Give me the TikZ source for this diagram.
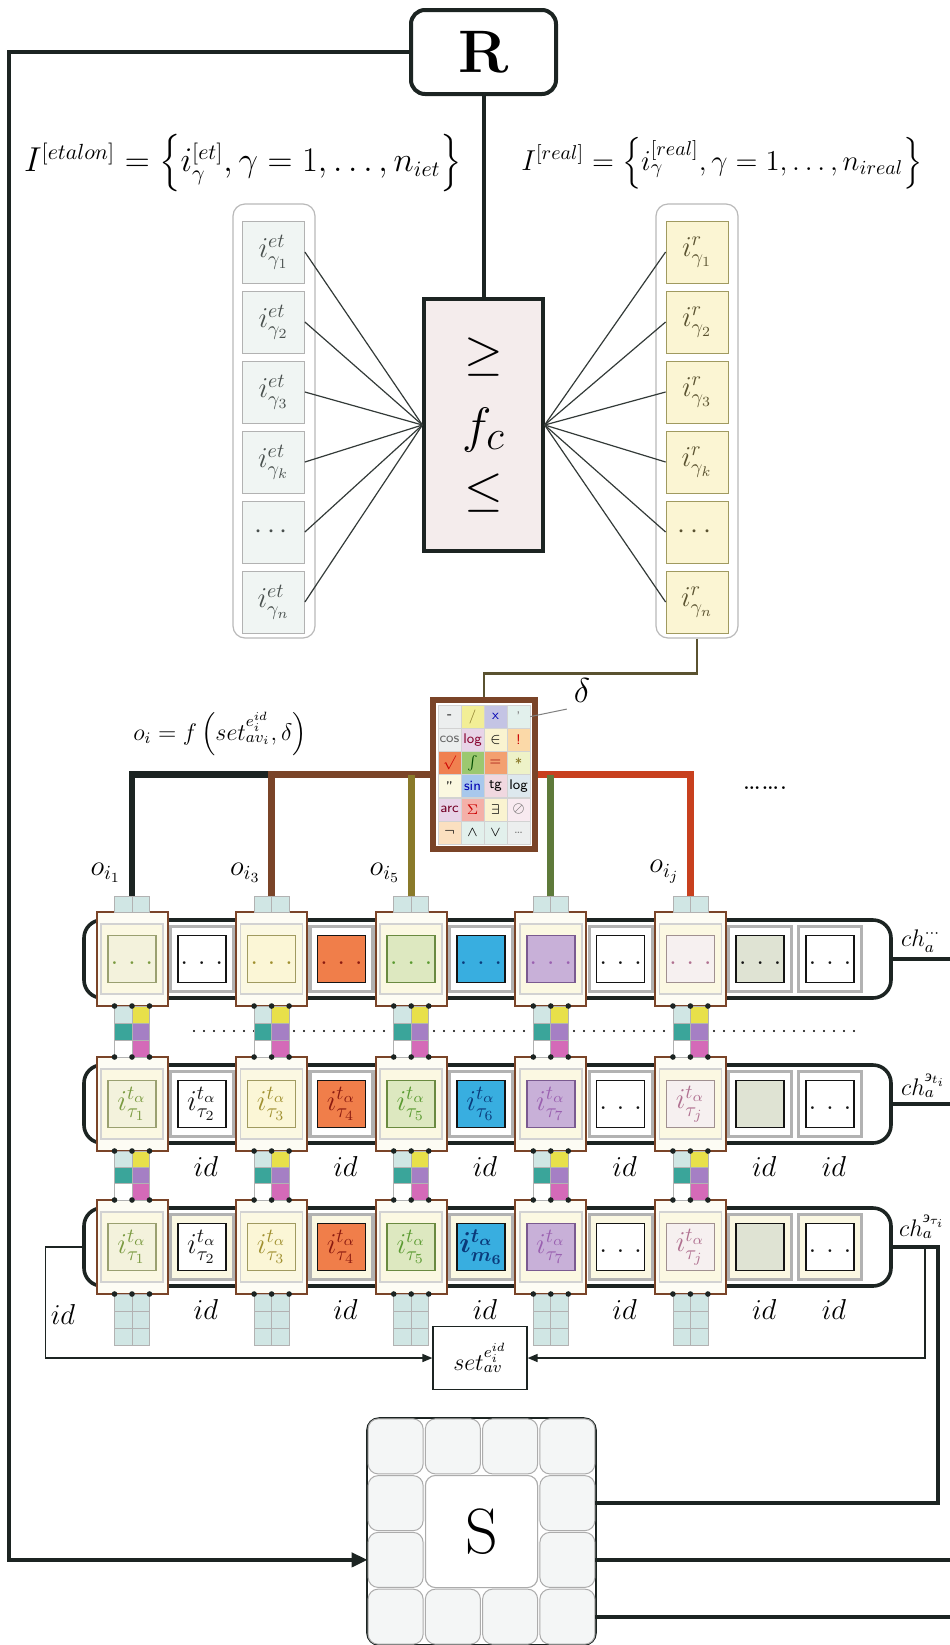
\documentclass[tikz,border=0pt]{standalone}
\usepackage{amsmath,amssymb}
\usepackage{fontspec}
\newfontfamily\cyrfont{Liberation Serif}
\usepackage{tikz}
\usetikzlibrary{arrows.meta,positioning,calc}
\usepackage{xcolor}
\definecolor{cWire}{RGB}{28,36,34}
\definecolor{cBrown}{RGB}{122,68,40}
\definecolor{cOlive}{RGB}{138,122,42}
\definecolor{cGreen}{RGB}{94,122,58}
\definecolor{cRed}{RGB}{200,64,30}
\definecolor{cLink}{RGB}{90,82,48}
\definecolor{cFc}{RGB}{244,236,236}
\definecolor{cEt}{RGB}{240,245,243}
\definecolor{cRe}{RGB}{251,245,211}
\definecolor{cCream}{RGB}{251,248,226}
\definecolor{cFrame}{RGB}{253,252,244}
\definecolor{cCyan}{RGB}{208,230,228}
\definecolor{cTeal}{RGB}{58,165,154}
\definecolor{cYel}{RGB}{232,224,74}
\definecolor{cPur}{RGB}{165,127,196}
\definecolor{cMag}{RGB}{212,106,184}
\definecolor{cS}{RGB}{244,246,246}
% slot colours per column: fill, border, text
\definecolor{cF1}{RGB}{243,242,220}\definecolor{cB1}{RGB}{154,160,112}\definecolor{cT1}{RGB}{122,154,64}
\definecolor{cF2}{RGB}{255,255,255}\definecolor{cB2}{RGB}{20,20,20}\definecolor{cT2}{RGB}{20,20,20}
\definecolor{cF3}{RGB}{251,246,214}\definecolor{cB3}{RGB}{160,154,96}\definecolor{cT3}{RGB}{160,144,48}
\definecolor{cF4}{RGB}{240,126,74}\definecolor{cB4}{RGB}{20,20,20}\definecolor{cT4}{RGB}{138,26,16}
\definecolor{cF5}{RGB}{221,232,192}\definecolor{cB5}{RGB}{106,138,64}\definecolor{cT5}{RGB}{90,154,48}
\definecolor{cF6}{RGB}{56,174,224}\definecolor{cB6}{RGB}{20,20,20}\definecolor{cT6}{RGB}{10,58,122}
\definecolor{cF7}{RGB}{200,176,216}\definecolor{cB7}{RGB}{122,90,144}\definecolor{cT7}{RGB}{154,96,176}
\definecolor{cF8}{RGB}{255,255,255}\definecolor{cB8}{RGB}{20,20,20}\definecolor{cT8}{RGB}{20,20,20}
\definecolor{cF9}{RGB}{246,240,240}\definecolor{cB9}{RGB}{160,144,144}\definecolor{cT9}{RGB}{176,112,144}
\definecolor{cF10}{RGB}{223,227,211}\definecolor{cB10}{RGB}{20,20,20}\definecolor{cT10}{RGB}{20,20,20}
\definecolor{cF11}{RGB}{255,255,255}\definecolor{cB11}{RGB}{20,20,20}\definecolor{cT11}{RGB}{20,20,20}
% operator table
\definecolor{oA}{RGB}{236,238,238}\definecolor{oY}{RGB}{242,238,150}\definecolor{oL}{RGB}{196,196,228}
\definecolor{oC}{RGB}{226,240,236}\definecolor{oP}{RGB}{232,212,232}\definecolor{oLY}{RGB}{250,243,208}
\definecolor{oPe}{RGB}{251,217,168}\definecolor{oO}{RGB}{240,128,80}\definecolor{oG}{RGB}{156,200,112}
\definecolor{oO2}{RGB}{243,160,112}\definecolor{oYG}{RGB}{238,242,200}\definecolor{oCr}{RGB}{251,248,224}
\definecolor{oB}{RGB}{168,200,236}\definecolor{oPk}{RGB}{240,216,224}\definecolor{oGB}{RGB}{221,232,238}
\definecolor{oSa}{RGB}{244,176,168}\definecolor{oLP}{RGB}{248,234,240}\definecolor{oPe2}{RGB}{251,224,192}

\begin{document}
\begin{tikzpicture}[x=0.5pt,y=-0.5pt,
    wire/.style={draw=cWire,line width=2pt},
    thinwire/.style={draw=cWire,line width=0.7pt},
    bus/.style={line width=3.4pt},
    fan/.style={draw=cWire!90,line width=0.6pt},
    colbox/.style={draw=gray!55,rounded corners=6pt,fill=white,line width=0.6pt,minimum width=41pt,minimum height=217pt},
    etcell/.style={draw=gray!60,fill=cEt,text=cWire!80,minimum width=31pt,minimum height=31pt,inner sep=0pt,font=\Large},
    recell/.style={etcell,fill=cRe,draw=cB3,text=cLink},
    rowbox/.style={draw=cWire,line width=1.8pt,rounded corners=9pt,minimum width=403.5pt,minimum height=39pt,inner sep=0pt},
    brownfr/.style={draw=cBrown,line width=1pt,fill=cFrame,minimum width=35.5pt,minimum height=47pt,inner sep=0pt},
    creambox/.style={draw=gray!35,line width=0.8pt,fill=cCream,minimum width=31pt,minimum height=35pt,inner sep=0pt},
    graybox/.style={draw=gray!60,line width=1.6pt,minimum width=31.5pt,minimum height=32.5pt,inner sep=0pt},
    slot/.style={minimum width=24pt,minimum height=23.5pt,inner sep=0pt,line width=0.8pt,font=\Large},
    sq/.style={draw=gray!60,line width=0.4pt},
    opcell/.style={draw=gray!35,line width=0.3pt,minimum size=11.5pt,inner sep=0pt,font=\sffamily\fontsize{7}{7}\selectfont},
    scell/.style={draw=gray!65,line width=0.5pt,fill=cS,rounded corners=5pt,minimum size=27.5pt,inner sep=0pt},
    idlab/.style={font=\Large},
    olab/.style={font=\Large},
    chlab/.style={font=\large,inner sep=0pt},
  ]
  \useasboundingbox (0,0) rectangle (949,1645);
  % Comparator block
  \node[wire,rounded corners=7pt,fill=white,minimum width=72.5pt,minimum height=42pt,font=\fontsize{30}{30}\selectfont\bfseries] (R) at (483.5,52) {R};
  \node[font=\fontsize{16}{18}\selectfont] (Iet) at (243,163) {$I^{[etalon]} = \left\{ i_{\gamma}^{[et]}, \gamma = 1,\ldots,n_{iet} \right\}$};
  \node[font=\Large] (Ire) at (722,163) {$I^{[real]} = \left\{ i_{\gamma}^{[real]}, \gamma = 1,\ldots,n_{ireal} \right\}$};
  \node[colbox] (etcol) at (274,421) {};
  \node[colbox] (recol) at (697,421) {};
  \foreach \k/\lbl in {1/{i^{et}_{\gamma_1}},2/{i^{et}_{\gamma_2}},3/{i^{et}_{\gamma_3}},4/{i^{et}_{\gamma_k}},5/{\cdots},6/{i^{et}_{\gamma_n}}}
    \node[etcell] (et\k) at (273.5,{252+70*(\k-1)}) {$\lbl$};
  \foreach \k/\lbl in {1/{i^{r}_{\gamma_1}},2/{i^{r}_{\gamma_2}},3/{i^{r}_{\gamma_3}},4/{i^{r}_{\gamma_k}},5/{\cdots},6/{i^{r}_{\gamma_n}}}
    \node[recell] (re\k) at (697,{252+70*(\k-1)}) {$\lbl$};
  \node[draw=cWire,line width=1.6pt,fill=cFc,minimum width=59.5pt,minimum height=126pt] (fc) at (483.5,425) {};
  \node[font=\fontsize{26}{26}\selectfont] (fcge) at (483.5,357) {$\geq$};
  \node[font=\fontsize{30}{30}\selectfont] (fcf) at (483.5,430) {$f_c$};
  \node[font=\fontsize{26}{26}\selectfont] (fcle) at (483.5,493) {$\leq$};
  \foreach \k in {1,...,6} {
    \draw[fan] (et\k.east) -- (fc.west);
    \draw[fan] (fc.east) -- (re\k.west);
  }
  \draw[wire] (R.south) -- (fc.north);
  % Operator table
  \node[draw=cBrown,line width=3pt,fill=white,minimum width=51pt,minimum height=74.5pt,inner sep=0pt] (ops) at (484,774.5) {};
  \draw[draw=cLink,line width=1.2pt] (recol.south) -- ++(0,35) -| (ops.north);
  \foreach \c/\fl/\tc/\sym in {1/oA/black/{-},2/oY/cOlive/{/},3/oL/blue!70!black/{x},4/oC/gray/{'}}
    \node[opcell,fill=\fl,text=\tc] (op1\c) at ({449.5+23*(\c-1)},716.6) {\sym};
  \foreach \c/\fl/\tc/\sym in {1/oA/gray!80!black/{cos},2/oP/purple!70!black/{log},3/oLY/black/{$\in$},4/oPe/red!80!black/{!}}
    \node[opcell,fill=\fl,text=\tc] (op2\c) at ({449.5+23*(\c-1)},739.8) {\sym};
  \foreach \c/\fl/\tc/\sym in {1/oO/red!80!black/{$\surd$},2/oG/green!30!black/{$\int$},3/oO2/red!60!black/{=},4/oYG/cOlive/{*}}
    \node[opcell,fill=\fl,text=\tc] (op3\c) at ({449.5+23*(\c-1)},763.0) {\sym};
  \foreach \c/\fl/\tc/\sym in {1/oCr/black/{''},2/oB/blue!70!black/{sin},3/oPk/black/{tg},4/oGB/black/{log}}
    \node[opcell,fill=\fl,text=\tc] (op4\c) at ({449.5+23*(\c-1)},786.2) {\sym};
  \foreach \c/\fl/\tc/\sym in {1/oP/purple!60!black/{arc},2/oSa/red!80!black/{$\Sigma$},3/oLY/black/{$\exists$},4/oLP/gray!70!black/{$\oslash$}}
    \node[opcell,fill=\fl,text=\tc] (op5\c) at ({449.5+23*(\c-1)},809.4) {\sym};
  \foreach \c/\fl/\tc/\sym in {1/oPe2/black/{$\neg$},2/oC/black/{$\wedge$},3/oC/black/{$\vee$},4/oA/gray/{\ldots}}
    \node[opcell,fill=\fl,text=\tc] (op6\c) at ({449.5+23*(\c-1)},832.6) {\sym};
  \node[font=\LARGE] (dl) at (582,690) {$\delta$};
  \draw[gray,line width=0.5pt] (op14.east) -- (dl.south west);
  \node[font=\large] (ofun) at (220,734) {$o_i = f\left( set^{e_i^{id}}_{av_i}, \delta \right)$};
  % Output buses
  \foreach \k in {1,3,5,7,9}
    \coordinate (top\k) at ({132+69.8*(\k-1)},896);
  \draw[bus,cWire] (top3 |- ops.west) -| (top1);
  \draw[bus,cBrown] (ops.west) -| (top3);
  \draw[bus,cOlive] (top5 |- ops.west) -- (top5);
  \draw[bus,cRed] (ops.east) -| (top9);
  \draw[bus,cGreen] (top7 |- ops.east) -- (top7);
  \node[olab,above left=3pt and 2pt of top1] (o1) {$o_{i_1}$};
  \node[olab,above left=3pt and 2pt of top3] (o3) {$o_{i_3}$};
  \node[olab,above left=3pt and 2pt of top5] (o5) {$o_{i_5}$};
  \node[olab,above left=3pt and 2pt of top9] (oj) {$o_{i_j}$};
  \node[font=\Large] (more) at (765,788) {\ldots\ldots.};
  % Chains of cells
  \draw[line width=1.2pt,dash pattern=on 0pt off 5pt,line cap=round] (194,1031) -- (858,1031);
  \foreach \r/\y/\gf in {1/959/white,2/1104/white,3/1247/cCream} {
    \node[rowbox] (row\r) at (487.5,\y) {};
    \foreach \k/\kind in {1/b,2/g,3/b,4/g,5/b,6/g,7/b,8/g,9/b,10/g,11/g} {
      \if b\kind
        \node[brownfr] (c\r-\k) at ({132+69.8*(\k-1)},\y) {};
        \node[creambox] (cr\r-\k) at (c\r-\k) {};
      \else
        \node[graybox,fill=\gf] (c\r-\k) at ({132+69.8*(\k-1)},\y) {};
      \fi
    }
  }
  \foreach \k in {1,...,11}
    \node[slot,fill=cF\k,draw=cB\k,text=cT\k] (sl1-\k) at (c1-\k) {\raisebox{-5pt}{.\,\,.\,\,.}};
  \foreach \k/\lbl in {1/{$i^{t_\alpha}_{\tau_1}$},2/{$i^{t_\alpha}_{\tau_2}$},3/{$i^{t_\alpha}_{\tau_3}$},4/{$i^{t_\alpha}_{\tau_4}$},5/{$i^{t_\alpha}_{\tau_5}$},6/{$i^{t_\alpha}_{\tau_6}$},7/{$i^{t_\alpha}_{\tau_7}$},8/{\raisebox{-5pt}{.\,\,.\,\,.}},9/{$i^{t_\alpha}_{\tau_j}$},10/{},11/{\raisebox{-5pt}{.\,\,.\,\,.}}}
    \node[slot,fill=cF\k,draw=cB\k,text=cT\k] (sl2-\k) at (c2-\k) {\lbl};
  \foreach \k/\lbl in {1/{$i^{t_\alpha}_{\tau_1}$},2/{$i^{t_\alpha}_{\tau_2}$},3/{$i^{t_\alpha}_{\tau_3}$},4/{$i^{t_\alpha}_{\tau_4}$},5/{$i^{t_\alpha}_{\tau_5}$},6/{$\boldsymbol{i^{t_\alpha}_{m_6}}$},7/{$i^{t_\alpha}_{\tau_7}$},8/{\raisebox{-5pt}{.\,\,.\,\,.}},9/{$i^{t_\alpha}_{\tau_j}$},10/{},11/{\raisebox{-5pt}{.\,\,.\,\,.}}}
    \node[slot,fill=cF\k,draw=cB\k,text=cT\k] (sl3-\k) at (c3-\k) {\lbl};
  % Links between chains
  \foreach \k in {1,3,5,7,9} {
    \draw[sq,fill=cCyan] (top\k) ++(-17.5,0) rectangle ++(17.5,16);
    \draw[sq,fill=cCyan] (top\k) rectangle ++(17.5,16);
  }
  \foreach \ya/\yb in {1006/1057,1151/1200}
    \foreach \k in {1,3,5,7,9} {
      \pgfmathsetmacro\cx{132+69.8*(\k-1)}
      \pgfmathsetmacro\h{(\yb-\ya)/3}
      \foreach \j/\fl/\fr in {0/cCyan/cYel,1/cTeal/cPur,2/white/cMag} {
        \draw[sq,fill=\fl] (\cx-17.5,\ya+\j*\h) rectangle ++(17.5,\h);
        \draw[sq,fill=\fr] (\cx,\ya+\j*\h) rectangle ++(17.5,\h);
      }
      \foreach \dx in {-17.5,0,17.5} {
        \fill[cWire] (\cx+\dx,\ya) circle (1.4pt);
        \fill[cWire] (\cx+\dx,\yb) circle (1.4pt);
      }
    }
  \foreach \k in {1,3,5,7,9} {
    \pgfmathsetmacro\cx{132+69.8*(\k-1)}
    \foreach \j in {0,1,2} {
      \draw[sq,fill=cCyan] (\cx-17.5,1294+\j*17) rectangle ++(17.5,17);
      \draw[sq,fill=cCyan] (\cx,1294+\j*17) rectangle ++(17.5,17);
    }
    \foreach \dx in {-17.5,0,17.5}
      \fill[cWire] (\cx+\dx,1294) circle (1.4pt);
  }
  \foreach \k in {2,4,6,8,10,11} {
    \node[idlab] (idb\k) at ({136+69.8*(\k-1)},1166) {$id$};
    \node[idlab] (idc\k) at ({136+69.8*(\k-1)},1309) {$id$};
  }
  \node[idlab] (id0) at (63,1314) {$id$};
  \node[chlab,above right=3pt and 4pt of row1.east] (ch1) {$ch_a^{\cdots}$};
  \node[chlab,above right=3pt and 4pt of row2.east] (ch2) {$ch_a^{\text{\cyrfont\itshape э}_{t_i}}$};
  \node[chlab,above right=4pt and 3pt of row3.east] (ch3) {$ch_a^{\text{\cyrfont\itshape э}_{\tau_i}}$};
  % Averaging and storage
  \node[draw=cWire,line width=0.6pt,fill=white,minimum width=47pt,minimum height=31.5pt,inner sep=1pt,font=\large] (set) at (480,1358) {$set^{e_i^{id}}_{av}$};
  \node[draw=cWire,line width=0.8pt,rounded corners=6pt,fill=white,minimum width=114.5pt,minimum height=113.5pt] (Sfr) at (481.5,1531.5) {};
  \foreach \i in {1,...,4}
    \foreach \j in {1,...,4}
      \node[scell] (sc\i\j) at ({367+57.25*(\j-0.5)},{1418+56.75*(\i-0.5)}) {};
  \node[scell,fill=white,minimum size=56pt,font=\fontsize{32}{32}\selectfont] (S) at (Sfr) {S};
  \coordinate (tap) at ($(row3.east)+(32,0)$);
  \draw[wire] (row1.east) -- ++(60,0);
  \draw[wire] (row2.east) -- ++(60,0);
  \draw[wire] (row3.east) -- ++(45,0) |- (sc24.east);
  \draw[thinwire,-{Triangle[length=5pt,width=4pt]}] (tap) |- (set.east);
  \draw[thinwire,-{Triangle[length=5pt,width=4pt]}] (row3.west) -- ++(-37,0) |- (set.west);
  \draw[wire] (sc34.east) -- ++(360,0);
  \draw[wire] (sc44.east) -- ++(360,0);
  \draw[wire,-{Triangle[length=8pt,width=7pt]}] (R.west) -- ++(-400.5,0) |- (sc31.west);
\end{tikzpicture}
\end{document}
